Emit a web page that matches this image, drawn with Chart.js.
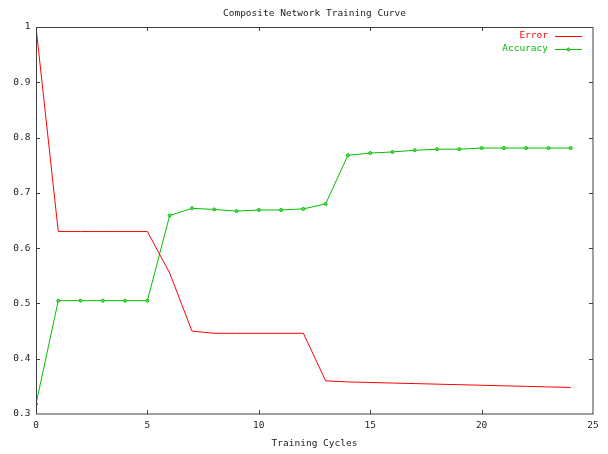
<!DOCTYPE html>
<html>
<head>
<meta charset="utf-8">
<script src="https://cdn.jsdelivr.net/npm/chart.js@4/dist/chart.umd.min.js"></script>
<style>
  html, body { margin: 0; padding: 0; background: #ffffff; }
  #wrap { width: 608px; height: 454px; }
</style>
</head>
<body>
<div id="wrap"><canvas id="c" width="608" height="454"></canvas></div>
<script>
// ---- data ----
const cycles = [0,1,2,3,4,5,6,7,8,9,10,11,12,13,14,15,16,17,18,19,20,21,22,23,24];
const errorValues = [1.0,0.63,0.63,0.63,0.63,0.63,0.555,0.45,0.446,0.446,0.446,0.446,0.446,0.36,0.358,0.357,0.356,0.355,0.354,0.353,0.352,0.351,0.350,0.349,0.348];
const accuracyValues = [0.318,0.505,0.505,0.505,0.505,0.505,0.659,0.672,0.670,0.667,0.669,0.669,0.671,0.680,0.768,0.772,0.774,0.777,0.779,0.779,0.781,0.781,0.781,0.781,0.781];
const xTicks = [0,5,10,15,20,25];
const yTicks = [0.3,0.4,0.5,0.6,0.7,0.8,0.9,1];
const titleText = 'Composite Network Training Curve';
const xTitle = 'Training Cycles';
const seriesNames = ['Error','Accuracy'];

const FONT = "'DejaVu Sans Mono', 'Liberation Mono', monospace";
const RED = '#ff0000';
const GREEN = '#00c000';
const AXIS = '#404040';

function toXY(ys) { return cycles.map((c, i) => ({ x: c, y: ys[i] })); }

// frame + inward ticks + legend
const framePlugin = {
  id: 'frame',
  afterDatasetsDraw(chart) {
    const { ctx, chartArea: a, scales } = chart;
    ctx.save();
    ctx.strokeStyle = AXIS;
    ctx.lineWidth = 1;
    ctx.strokeRect(Math.round(a.left) + 0.5, Math.round(a.top) + 0.5,
                   Math.round(a.right - a.left) - 1 + 0.5, Math.round(a.bottom - a.top) - 0.5);
    const L = 4;
    ctx.beginPath();
    xTicks.forEach(v => {
      if (v === xTicks[0] || v === xTicks[xTicks.length - 1]) return;
      const px = Math.round(scales.x.getPixelForValue(v)) + 0.5;
      ctx.moveTo(px, a.bottom); ctx.lineTo(px, a.bottom - L);
      ctx.moveTo(px, a.top); ctx.lineTo(px, a.top + L);
    });
    yTicks.forEach(v => {
      if (v === yTicks[0] || v === yTicks[yTicks.length - 1]) return;
      const py = Math.round(scales.y.getPixelForValue(v)) + 0.5;
      ctx.moveTo(a.left, py); ctx.lineTo(a.left + L, py);
      ctx.moveTo(a.right, py); ctx.lineTo(a.right - L, py);
    });
    ctx.stroke();

    // legend (top-right inside plot)
    ctx.font = '9.5px ' + FONT;
    ctx.textAlign = 'right';
    ctx.textBaseline = 'middle';
    const textRight = a.right - 45;
    const lineX0 = a.right - 38, lineX1 = a.right - 11;
    chart.data.datasets.forEach((ds, i) => {
      const y = a.top + 8.5 + i * 13;
      ctx.fillStyle = ds.borderColor;
      ctx.fillText(ds.label, textRight, y);
      ctx.strokeStyle = ds.borderColor;
      ctx.beginPath();
      ctx.moveTo(lineX0, Math.round(y) + 0.5);
      ctx.lineTo(lineX1, Math.round(y) + 0.5);
      ctx.stroke();
      if (ds.pointRadius > 0) {
        ctx.fillStyle = ds.pointBackgroundColor;
        ctx.beginPath();
        ctx.arc((lineX0 + lineX1) / 2, Math.round(y) + 0.5, ds.pointRadius, 0, Math.PI * 2);
        ctx.fill();
        ctx.stroke();
      }
    });
    ctx.restore();
  }
};

new Chart(document.getElementById('c'), {
  type: 'line',
  data: {
    datasets: [
      {
        label: seriesNames[0],
        data: toXY(errorValues),
        borderColor: RED,
        backgroundColor: RED,
        borderWidth: 1,
        pointRadius: 0,
        tension: 0,
        fill: false
      },
      {
        label: seriesNames[1],
        data: toXY(accuracyValues),
        borderColor: GREEN,
        backgroundColor: GREEN,
        pointBackgroundColor: '#70d870',
        pointBorderColor: GREEN,
        borderWidth: 1,
        pointRadius: 1.5,
        pointBorderWidth: 1,
        tension: 0,
        fill: false
      }
    ]
  },
  options: {
    responsive: false,
    animation: false,
    devicePixelRatio: 1,
    layout: { padding: { left: 0, right: 15, top: 0, bottom: 0 } },
    plugins: {
      legend: { display: false },
      tooltip: { enabled: false },
      title: {
        display: true,
        text: titleText,
        fullSize: false,
        color: '#222222',
        font: { family: FONT, size: 9.5, weight: 'normal', lineHeight: 1.2 },
        padding: { top: 8, bottom: 7.6 }
      }
    },
    scales: {
      x: {
        type: 'linear',
        min: 0, max: 25,
        grid: { display: false, drawTicks: false },
        border: { display: false },
        afterBuildTicks(s) { s.ticks = xTicks.map(v => ({ value: v })); },
        afterFit(s) { s.height = 40; },
        ticks: {
          color: '#222222',
          padding: 6,
          maxRotation: 0,
          autoSkip: false,
          font: { family: FONT, size: 9.5, lineHeight: 1.2 },
          callback: v => String(v)
        },
        title: {
          display: true,
          text: xTitle,
          color: '#222222',
          font: { family: FONT, size: 9.5, lineHeight: 1.2 },
          padding: { top: 4.6, bottom: 4.6 }
        }
      },
      y: {
        type: 'linear',
        min: 0.3, max: 1,
        grid: { display: false, drawTicks: false },
        border: { display: false },
        afterBuildTicks(s) { s.ticks = yTicks.map(v => ({ value: v })); },
        afterFit(s) { s.width = 36; },
        ticks: {
          color: '#222222',
          padding: 5.5,
          autoSkip: false,
          font: { family: FONT, size: 9.5, lineHeight: 1.2 },
          callback: v => (Math.abs(v - 1) < 1e-9 ? '1' : Number(v).toFixed(1))
        }
      }
    }
  },
  plugins: [framePlugin]
});
</script>
</body>
</html>
